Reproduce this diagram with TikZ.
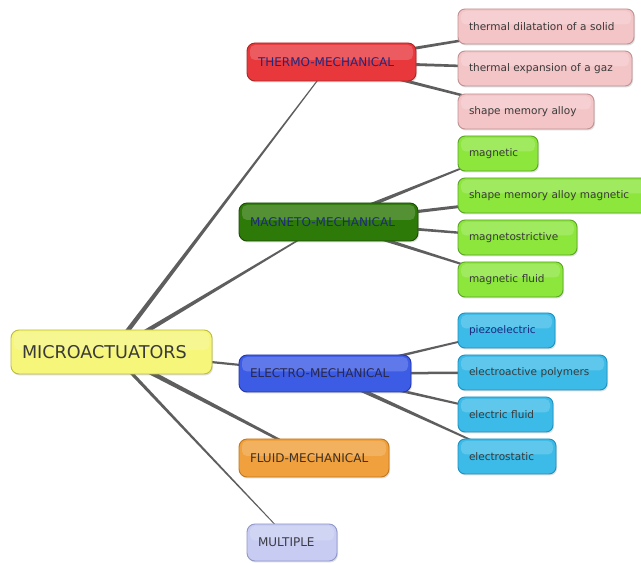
\documentclass[tikz,border=0pt]{standalone}
\usepackage{fontspec}
\setmainfont{DejaVu Sans}
\usetikzlibrary{calc,shadows}
\definecolor{linkc}{HTML}{5E5E5E}
\definecolor{rootf}{HTML}{F6F67A}\definecolor{rootd}{HTML}{BDBD3C}
\definecolor{thf}{HTML}{E8383C}\definecolor{thd}{HTML}{A82828}
\definecolor{pkf}{HTML}{F3C5C7}\definecolor{pkd}{HTML}{BF9193}
\definecolor{mgf}{HTML}{2E7A08}\definecolor{mgd}{HTML}{1C4C04}
\definecolor{grf}{HTML}{8CE63C}\definecolor{grd}{HTML}{5CA428}
\definecolor{elf}{HTML}{3C5CE6}\definecolor{eld}{HTML}{2438A8}
\definecolor{cyf}{HTML}{3CBBE8}\definecolor{cyd}{HTML}{2090C0}
\definecolor{flf}{HTML}{F0A03C}\definecolor{fld}{HTML}{C07820}
\definecolor{muf}{HTML}{C8CCF2}\definecolor{mud}{HTML}{9098C8}
\definecolor{navy}{HTML}{1E2A80}
\definecolor{txt}{HTML}{3A3A3A}
\pgfdeclarelayer{bg}
\pgfsetlayers{bg,main}
\newcommand\taper[4]{%
  \fill[linkc] ($(#1)!#3!90:(#2)$) -- ($(#2)!#4!-90:(#1)$) --
    ($(#2)!#4!90:(#1)$) -- ($(#1)!#3!-90:(#2)$) -- cycle;}
\tikzset{
  box/.style={draw, line width=0.9pt, rounded corners=7pt, inner xsep=11pt,
    inner ysep=0pt, align=left,
    drop shadow={shadow xshift=1pt, shadow yshift=-1.5pt, opacity=0.25},
    path picture={\fill[white, opacity=0.18, rounded corners=5pt]
      ([xshift=3pt,yshift=-2pt]path picture bounding box.north west) rectangle
      ([xshift=-3pt,yshift=2pt]path picture bounding box.east);}},
  rootbox/.style={box, fill=rootf, draw=rootd, rounded corners=8pt,
    minimum height=44pt, text=txt, font=\fontsize{17.6}{20}\selectfont},
  catbox/.style={box, rounded corners=8pt, minimum height=38pt,
    font=\fontsize{12}{14}\selectfont},
  leaf/.style={box, minimum height=35pt, text=txt,
    font=\fontsize{10.5}{12}\selectfont},
  pink/.style={leaf, fill=pkf, draw=pkd},
  green/.style={leaf, fill=grf, draw=grd},
  cyan/.style={leaf, fill=cyf, draw=cyd},
}
\begin{document}
\begin{tikzpicture}[x=1pt,y=1pt]
\useasboundingbox (0,0) rectangle (641,563);
\clip (0,0) rectangle (641,563);
% root and categories
\node[rootbox, text width=179pt] (root) at (111.5,211) {MICROACTUATORS};
\node[catbox, fill=thf, draw=thd, text=navy, text width=147pt] (thermo) at (331.5,501) {THERMO-MECHANICAL};
\node[catbox, fill=mgf, draw=mgd, text=navy, text width=157pt] (magneto) at (328.5,341) {MAGNETO-MECHANICAL};
\node[catbox, fill=elf, draw=eld, text={rgb,255:red,40;green,40;blue,80}, text width=150pt, minimum height=37pt] (electro) at (325,189.5) {ELECTRO-MECHANICAL};
\node[catbox, fill=flf, draw=fld, text={rgb,255:red,60;green,50;blue,40}, text width=128pt] (fluid) at (314,105) {FLUID-MECHANICAL};
\node[catbox, fill=muf, draw=mud, text={rgb,255:red,60;green,60;blue,70}, text width=68pt, minimum height=37pt] (multiple) at (292,20.5) {MULTIPLE};
% thermo leaves
\node[pink, text width=154pt] (td) at (546,536.5) {thermal dilatation of a solid};
\node[pink, text width=152pt] (te) at (545,494.5) {thermal expansion of a gaz};
\node[pink, text width=114pt] (sma) at (526,451.5) {shape memory alloy};
% magneto leaves
\node[green, text width=58pt] (mag) at (498,409.5) {magnetic};
\node[green, text width=168pt] (smam) at (553,367.5) {shape memory alloy magnetic};
\node[green, text width=97pt] (mstr) at (517.5,325.5) {magnetostrictive};
\node[green, text width=83pt] (mflu) at (510.5,283.5) {magnetic fluid};
% electro leaves
\node[cyan, text width=75pt, text=navy] (piezo) at (506.5,232.5) {piezoelectric};
\node[cyan, text width=127pt] (eap) at (532.5,190.5) {electroactive polymers};
\node[cyan, text width=73pt] (ef) at (505.5,148.5) {electric fluid};
\node[cyan, text width=76pt] (es) at (507,106.5) {electrostatic};
% connectors
\begin{pgfonlayer}{bg}
\fill[white] (0,0) rectangle (641,563);
\taper{root}{thermo}{2.4pt}{0.4pt}
\taper{root}{magneto}{2.5pt}{0.5pt}
\taper{root}{electro}{1.2pt}{1.0pt}
\taper{root}{fluid}{2.6pt}{1.0pt}
\taper{root}{multiple}{1.8pt}{0.3pt}
\taper{thermo}{td}{1.8pt}{0.9pt}
\taper{thermo}{te}{1.8pt}{0.9pt}
\taper{thermo}{sma}{1.9pt}{0.9pt}
\taper{magneto}{mag}{2.3pt}{0.5pt}
\taper{magneto}{smam}{1.8pt}{1.2pt}
\taper{magneto}{mstr}{1.8pt}{0.9pt}
\taper{magneto}{mflu}{2.2pt}{0.6pt}
\taper{electro}{piezo}{1.6pt}{0.7pt}
\taper{electro}{eap}{1.5pt}{1.0pt}
\taper{electro}{ef}{1.9pt}{0.7pt}
\taper{electro}{es}{2.4pt}{0.5pt}
\end{pgfonlayer}
\end{tikzpicture}
\end{document}
